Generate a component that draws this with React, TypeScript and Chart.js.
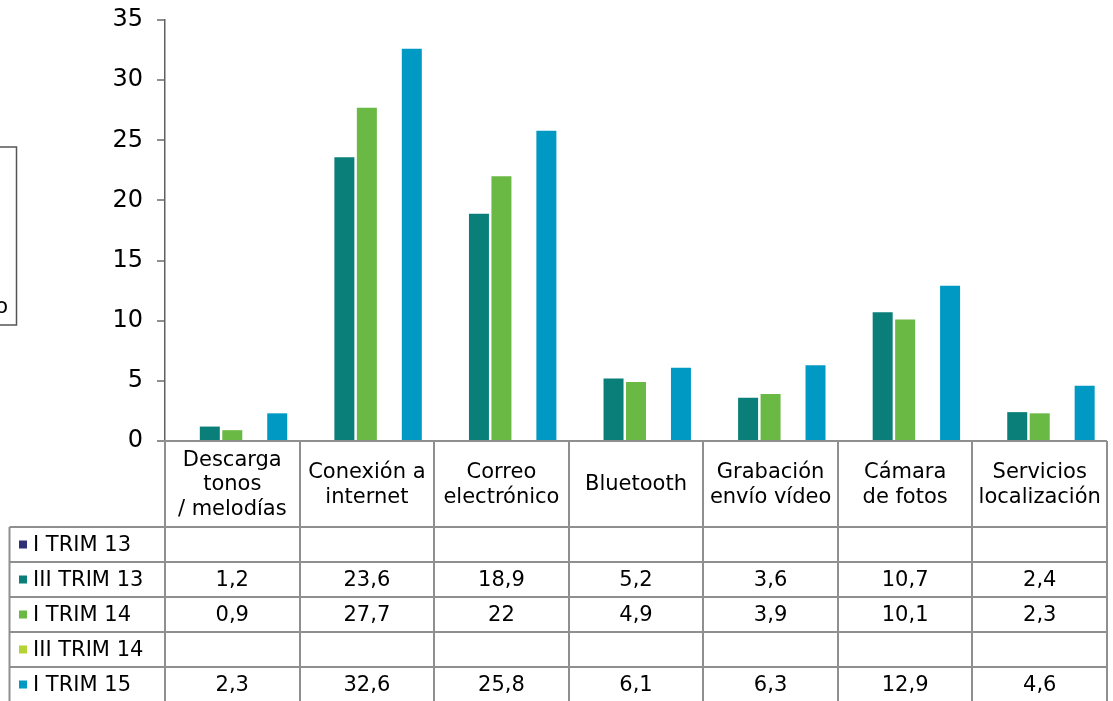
import React, { useEffect, useRef } from "react";
import { Chart, registerables } from "chart.js";

Chart.register(...registerables);

const categories: string[][] = [
  ["Descarga", "tonos", "/ melodías"],
  ["Conexión a", "internet"],
  ["Correo", "electrónico"],
  ["Bluetooth"],
  ["Grabación", "envío vídeo"],
  ["Cámara", "de fotos"],
  ["Servicios", "localización"],
];

const seriesNames = ["I TRIM 13", "III TRIM 13", "I TRIM 14", "III TRIM 14", "I TRIM 15"];
const seriesColors = ["#2E3076", "#0A7F7A", "#6AB945", "#B5D334", "#0099C4"];

const iTrim13: (number | null)[] = [null, null, null, null, null, null, null];
const iiiTrim13: (number | null)[] = [1.2, 23.6, 18.9, 5.2, 3.6, 10.7, 2.4];
const iTrim14: (number | null)[] = [0.9, 27.7, 22, 4.9, 3.9, 10.1, 2.3];
const iiiTrim14: (number | null)[] = [null, null, null, null, null, null, null];
const iTrim15: (number | null)[] = [2.3, 32.6, 25.8, 6.1, 6.3, 12.9, 4.6];

const yTicks = [0, 5, 10, 15, 20, 25, 30, 35];

const FONT = "'DejaVu Sans', Verdana, sans-serif";

const tablePlugin = {
  id: "dataTable",
  afterDraw(chart: any) {
    const ctx = chart.ctx as CanvasRenderingContext2D;
    const area = chart.chartArea;
    const x = chart.scales.x;
    const all = [iTrim13, iiiTrim13, iTrim14, iiiTrim14, iTrim15];
    const headerBottom = 527;
    const rowH = 35;
    const tableLeft = 9.5;
    const n = categories.length;
    const step = (area.right - area.left) / n;
    ctx.save();
    ctx.strokeStyle = "#8f8f8f";
    ctx.lineWidth = 2;
    ctx.beginPath();
    ctx.moveTo(area.left, area.bottom);
    ctx.lineTo(area.right, area.bottom);
    for (let i = 0; i <= n; i++) {
      const px = Math.round(area.left + i * step);
      ctx.moveTo(px, i === 0 ? area.bottom - 1 : area.bottom);
      ctx.lineTo(px, 701);
    }
    ctx.moveTo(tableLeft, headerBottom);
    ctx.lineTo(tableLeft, 701);
    for (let r = 0; r <= seriesNames.length; r++) {
      const py = headerBottom + r * rowH;
      ctx.moveTo(tableLeft, py);
      ctx.lineTo(area.right, py);
    }
    ctx.stroke();

    ctx.fillStyle = "#000";
    ctx.font = "21px " + FONT;
    ctx.textAlign = "center";
    ctx.textBaseline = "middle";
    const headerMid = (area.bottom + headerBottom) / 2;
    const lh = 24.5;
    categories.forEach((lines, i) => {
      const cx = x.getPixelForValue(i);
      const start = headerMid - ((lines.length - 1) * lh) / 2;
      lines.forEach((l, j) => ctx.fillText(l, cx, start + j * lh + 1));
    });
    seriesNames.forEach((name, r) => {
      const cy = headerBottom + r * rowH + rowH / 2;
      ctx.fillStyle = seriesColors[r];
      ctx.fillRect(19, cy - 4, 8, 8);
      ctx.fillStyle = "#000";
      ctx.textAlign = "left";
      ctx.fillText(name, 33, cy + 1);
      ctx.textAlign = "center";
      all[r].forEach((v, i) => {
        if (v === null) return;
        ctx.fillText(String(v).replace(".", ","), x.getPixelForValue(i), cy + 1);
      });
    });

    ctx.strokeStyle = "#555";
    ctx.lineWidth = 1.5;
    ctx.strokeRect(-5, 147, 21.5, 178);
    ctx.fillStyle = "#000";
    ctx.textAlign = "right";
    ctx.fillText("o", 8, 308);
    ctx.restore();
  },
};

export default function App() {
  const ref = useRef<HTMLCanvasElement>(null);
  useEffect(() => {
    if (!ref.current) return;
    const chart = new Chart(ref.current, {
      type: "bar",
      data: {
        labels: categories.map((c) => c.join(" ")),
        datasets: [iTrim13, iiiTrim13, iTrim14, iiiTrim14, iTrim15].map((d, i) => ({
          label: seriesNames[i],
          data: d,
          backgroundColor: seriesColors[i],
          borderWidth: 0,
          categoryPercentage: 0.835,
          barPercentage: 0.89,
        })),
      },
      options: {
        animation: false,
        responsive: true,
        maintainAspectRatio: false,
        layout: { padding: { top: 20, right: 6, bottom: 260, left: 0 } },
        plugins: {
          legend: { display: false },
          tooltip: { enabled: false },
        },
        scales: {
          x: { display: false },
          y: {
            min: 0,
            max: 35,
            afterFit: (s: any) => {
              s.width = 165;
              s.paddingTop = 0;
              s.paddingBottom = 0;
            },
            afterBuildTicks: (s: any) => {
              s.ticks = yTicks.map((v) => ({ value: v }));
            },
            grid: {
              drawOnChartArea: false,
              drawTicks: true,
              tickLength: 8,
              color: "#8f8f8f",
              lineWidth: 2,
            },
            border: { display: true, color: "#606060", width: 1.5 },
            ticks: {
              color: "#000",
              padding: 14,
              font: { family: FONT, size: 24 },
            },
          },
        },
      },
      plugins: [tablePlugin],
    });
    return () => chart.destroy();
  }, []);
  return (
    <div style={{ position: "fixed", left: 0, top: 0, width: 1113, height: 701, background: "#fff" }}>
      <canvas ref={ref} />
    </div>
  );
}
